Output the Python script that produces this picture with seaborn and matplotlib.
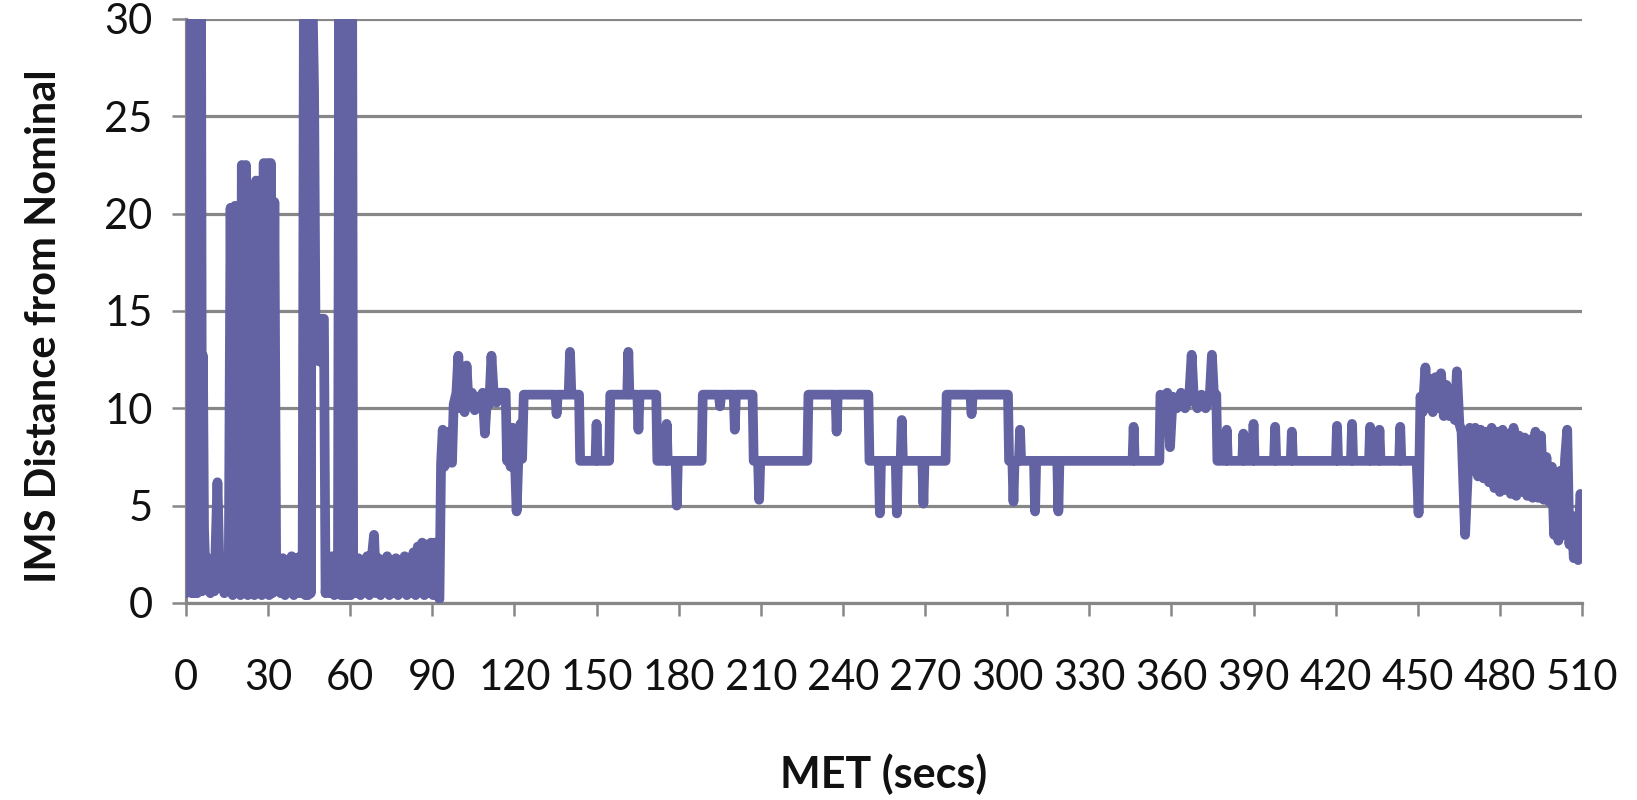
import numpy as np
import pandas as pd
import matplotlib
matplotlib.use('Agg')
import matplotlib.pyplot as plt
import seaborn as sns

# (MET secs, IMS distance), phase by phase
liftoff = [(0.0, 0.5), (0.5, 27.0), (1.0, 0.8), (1.6, 32), (2.1, 0.5), (2.6, 32), (3.1, 0.5),
           (3.6, 32), (4.1, 0.5), (4.6, 32), (5.1, 0.6), (5.5, 32), (5.9, 0.6), (6.2, 12.7),
           (6.6, 3.8), (7.3, 0.8), (8.1, 2.3), (8.9, 0.5), (9.7, 2.2), (10.4, 0.6), (11.5, 6.2),
           (12.4, 0.8), (13.2, 2.0), (14.0, 0.5), (14.8, 2.2), (15.6, 0.6)]

burst = [(16.3, 20.3), (17.1, 0.4), (17.9, 20.4), (18.6, 0.6), (19.4, 20.4), (19.9, 0.4),
         (20.4, 22.5), (21.1, 0.5), (21.9, 22.5), (22.6, 0.4), (23.2, 20.8), (23.8, 0.6),
         (24.4, 20.8), (25.0, 0.4), (25.6, 21.7), (26.3, 0.5), (27.0, 21.7), (27.7, 0.4),
         (28.4, 22.6), (29.1, 0.6), (29.8, 22.6), (30.4, 0.4), (31.0, 22.6), (31.6, 0.5),
         (32.3, 20.6), (33.0, 0.6)]

separation = [(33.8, 2.2), (34.6, 0.5), (35.4, 2.3), (36.2, 0.4), (37.0, 2.2), (37.8, 0.6),
              (38.6, 2.4), (39.4, 0.4), (40.2, 2.3), (41.0, 0.5), (41.8, 2.4), (42.6, 0.5),
              (43.1, 32), (43.6, 0.4), (44.1, 32), (44.6, 0.4), (45.1, 32), (45.6, 0.5),
              (46.0, 32), (46.3, 30.5), (46.8, 26.4), (47.4, 12.5), (48.8, 12.4), (49.2, 14.6),
              (50.4, 14.6), (51.0, 0.5), (51.8, 2.3), (52.6, 0.5), (53.4, 2.4), (54.2, 0.4),
              (55.0, 2.2), (55.5, 0.6), (56.0, 32), (56.6, 0.4), (57.2, 32), (57.8, 0.4),
              (58.4, 32), (59.0, 0.4), (59.6, 32), (60.2, 0.4), (60.7, 32), (61.1, 1.0)]

coast = [(61.4, 2.2), (62.2, 0.5), (63.0, 2.3), (63.8, 0.4), (64.6, 2.1), (65.4, 0.6),
         (66.2, 2.4), (67.0, 0.4), (67.8, 2.2), (68.7, 3.5), (69.5, 0.5), (70.3, 2.3),
         (71.1, 0.4), (71.9, 2.2), (72.7, 0.6), (73.5, 2.4), (74.3, 0.4), (75.1, 2.1),
         (75.9, 0.5), (76.7, 2.3), (77.5, 0.4), (78.3, 2.2), (79.1, 0.6), (79.9, 2.4),
         (80.7, 0.4), (81.5, 2.3), (82.3, 0.5), (83.1, 2.6), (83.9, 0.4), (84.7, 2.9),
         (85.5, 0.6), (86.3, 3.1), (87.1, 0.4), (87.9, 3.0), (88.7, 0.5), (89.5, 3.1),
         (90.3, 0.4), (91.1, 3.1), (91.9, 0.5), (92.6, 0.2), (93.2, 7.2), (93.8, 8.9),
         (94.4, 7.0), (95.2, 7.2), (96.0, 8.8), (96.6, 7.3), (97.2, 7.2)]

tracking = [(97.8, 10.2), (98.8, 10.8), (99.5, 12.7), (100.2, 10.0), (101.0, 10.8), (101.8, 9.8),
            (102.5, 12.2), (103.2, 10.4), (104.5, 10.8), (105.5, 9.9), (106.5, 10.6), (107.6, 10.0),
            (108.4, 10.8), (109.2, 8.7), (110.0, 10.6), (110.8, 10.2), (111.6, 12.7), (112.4, 10.8),
            (113.5, 10.3), (114.5, 10.8), (116.8, 10.8), (117.3, 7.3), (118.0, 8.8), (118.6, 7.0),
            (119.4, 9.0), (120.2, 7.2), (120.8, 4.7), (121.4, 7.3), (122.2, 9.2), (122.8, 7.4),
            (123.4, 10.7), (135.0, 10.7), (135.4, 9.7), (135.8, 10.7), (139.8, 10.7), (140.3, 12.9),
            (140.8, 10.7), (143.6, 10.7), (144.0, 7.3), (149.6, 7.3), (150.0, 9.2), (150.4, 7.3),
            (154.6, 7.3), (155.0, 10.7), (161.2, 10.7), (161.6, 12.9), (162.0, 10.7), (164.9, 10.7),
            (165.3, 8.9), (165.7, 10.7), (171.8, 10.7), (172.2, 7.3), (175.2, 7.3), (175.6, 9.2),
            (176.0, 7.3), (178.9, 7.3), (179.3, 5.0), (179.7, 7.3), (188.4, 7.3), (188.8, 10.7),
            (194.7, 10.7), (195.1, 10.1), (195.5, 10.7), (200.1, 10.7), (200.5, 8.9), (200.9, 10.7),
            (207.0, 10.7), (207.4, 7.3), (209.0, 7.3), (209.4, 5.3), (209.8, 7.3), (227.0, 7.3),
            (227.4, 10.7), (237.3, 10.7), (237.7, 8.8), (238.1, 10.7), (249.3, 10.7), (249.7, 7.3),
            (253.1, 7.3), (253.5, 4.6), (253.9, 7.3), (259.3, 7.3), (259.7, 4.6), (260.1, 7.3),
            (261.1, 7.3), (261.5, 9.4), (261.9, 7.3), (269.0, 7.3), (269.4, 5.1), (269.8, 7.3),
            (277.5, 7.3), (277.9, 10.7), (286.6, 10.7), (287.0, 9.7), (287.4, 10.7), (300.3, 10.7),
            (300.7, 7.3), (301.9, 7.3), (302.3, 5.2), (302.7, 7.3), (304.3, 7.3), (304.7, 8.9),
            (305.1, 7.3), (309.8, 7.3), (310.2, 4.7), (310.6, 7.3), (318.3, 7.3), (318.7, 4.7),
            (319.1, 7.3), (345.8, 7.3), (346.2, 9.05), (346.6, 7.3), (355.6, 7.3)]

approach = [(356.0, 10.7), (357.5, 10.0), (358.5, 10.8), (359.5, 8.0), (360.5, 10.6), (362.0, 10.0),
            (363.5, 10.8), (365.0, 10.0), (366.5, 10.6), (367.4, 12.75), (368.2, 10.5), (369.5, 10.0),
            (371.0, 10.7), (372.5, 10.0), (374.0, 10.6), (374.8, 12.75), (375.6, 10.5), (376.4, 10.7),
            (376.8, 7.3), (379.8, 7.3), (380.2, 8.9), (380.6, 7.3), (385.9, 7.3), (386.3, 8.7),
            (386.7, 7.3), (389.6, 7.3), (390.0, 9.2), (390.4, 7.3), (397.5, 7.3), (397.9, 9.05),
            (398.3, 7.3), (403.6, 7.3), (404.0, 8.8), (404.4, 7.3), (420.1, 7.3), (420.5, 9.1),
            (420.9, 7.3), (425.6, 7.3), (426.0, 9.2), (426.4, 7.3), (432.2, 7.3), (432.6, 9.05),
            (433.0, 7.3), (435.6, 7.3), (436.0, 8.9), (436.4, 7.3), (443.2, 7.3), (443.6, 9.05),
            (444.0, 7.3), (449.6, 7.3)]

terminal = [(450.3, 4.6), (451.0, 10.6), (451.8, 9.8), (452.8, 12.1), (453.6, 10.0), (454.6, 11.5),
            (455.5, 9.8), (456.5, 11.6), (457.5, 10.0), (458.5, 11.8), (459.5, 9.6), (460.5, 11.2),
            (461.5, 9.6), (462.5, 11.0), (463.5, 9.4), (464.3, 11.9), (465.2, 9.2), (466.0, 8.8),
            (467.3, 3.5), (469.0, 9.0), (470.0, 6.8), (471.0, 9.0), (472.0, 6.5), (473.0, 8.9),
            (474.0, 6.4), (475.0, 8.8), (476.0, 6.2), (477.0, 9.0), (478.0, 5.9), (479.0, 8.8),
            (480.0, 5.7), (481.0, 8.9), (482.0, 5.8), (483.0, 8.7), (484.0, 5.6), (485.0, 9.0),
            (486.0, 5.5), (487.0, 8.6), (488.0, 5.7), (489.0, 8.5), (490.0, 5.5), (491.0, 8.4),
            (492.0, 5.4), (493.0, 8.8), (494.0, 5.4), (495.0, 8.6), (496.0, 5.3), (497.0, 7.5),
            (498.0, 5.2), (499.0, 7.0), (499.8, 3.5), (500.6, 6.5), (501.4, 3.2), (502.2, 6.8),
            (503.0, 3.5), (503.8, 7.4), (504.6, 8.9), (505.4, 3.0), (506.2, 4.5), (507.0, 2.3),
            (507.8, 3.8), (508.6, 2.2), (509.4, 5.6), (509.8, 5.4)]

phases = liftoff + burst + separation + coast + tracking + approach + terminal
df = pd.DataFrame(phases, columns=['met', 'ims'])

x_ticks = list(range(0, 511, 30))
y_ticks = [0, 5, 10, 15, 20, 25, 30]

sns.set_style('white')
plt.rcParams['font.family'] = ['Lato', 'DejaVu Sans']

line_color = '#6363A3'
grid_color = '#878787'
text_color = '#111111'

fig = plt.figure(figsize=(16.37, 8), dpi=100)
ax = fig.add_axes([0.1136, 0.2463, 0.8528, 0.73])

sns.lineplot(data=df, x='met', y='ims', ax=ax, estimator=None, sort=False,
             color=line_color, linewidth=7, zorder=3)

ax.set_xlim(0, 510)
ax.set_ylim(0, 30)
ax.set_xticks(x_ticks)
ax.set_yticks(y_ticks)
ax.yaxis.grid(True, color=grid_color, linewidth=2.3)
ax.xaxis.grid(False)
ax.set_axisbelow(True)

for side in ['top', 'right']:
    ax.spines[side].set_visible(False)
for side in ['left', 'bottom']:
    ax.spines[side].set_color(grid_color)
    ax.spines[side].set_linewidth(2.3)

ax.tick_params(axis='x', direction='out', length=9.5, width=1.8, color=grid_color,
               labelsize=30, labelcolor=text_color, pad=31, bottom=True)
ax.tick_params(axis='y', direction='out', length=10, width=1.8, color=grid_color,
               labelsize=30, labelcolor=text_color, pad=14, left=True)

ax.set_xlabel('MET (secs)', fontsize=31, fontweight='bold', color=text_color)
ax.set_ylabel('IMS Distance from Nominal', fontsize=30, fontweight='bold', color=text_color)
ax.xaxis.set_label_coords(0.5, -0.294)
ax.xaxis.label.set_va('center')
ax.yaxis.set_label_coords(-0.1017, 0.474)
ax.yaxis.label.set_va('center')

fig.savefig('out.png', dpi=100)
plt.close()
